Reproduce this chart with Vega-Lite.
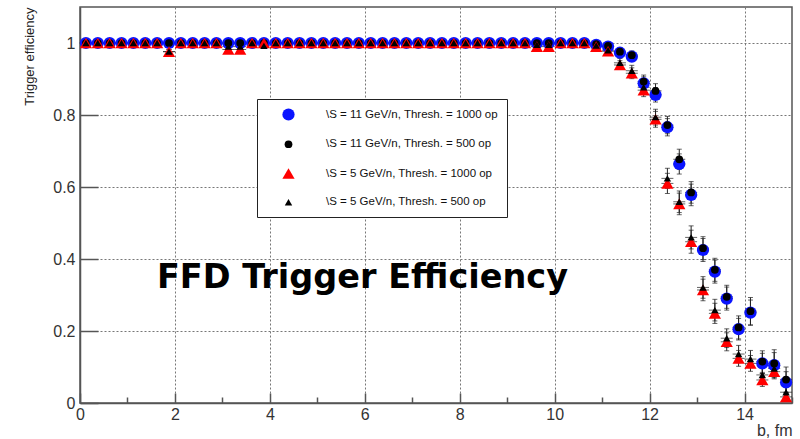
{
  "$schema": "https://vega.github.io/schema/vega-lite/v6.json",
  "width": 712,
  "height": 396,
  "autosize": {"type": "none"},
  "padding": {"left": 80, "top": 7, "right": 8, "bottom": 36},
  "background": "white",
  "datasets": {
    "caption": [{"label": "FFD Trigger Efficiency", "cx": 1.62, "cy": 0.32}],
    "series": [
      {"s": "A", "name": "\\S = 11 GeV/n, Thresh. = 1000 op"},
      {"s": "B", "name": "\\S = 11 GeV/n, Thresh. = 500 op"},
      {"s": "C", "name": "\\S = 5 GeV/n, Thresh. = 1000 op"},
      {"s": "D", "name": "\\S = 5 GeV/n, Thresh. = 500 op"}
    ],
    "points": [
      {"b":0.125,"s":"A","y":1,"e":0},{"b":0.375,"s":"A","y":1,"e":0},{"b":0.625,"s":"A","y":1,"e":0},{"b":0.875,"s":"A","y":1,"e":0},
      {"b":1.125,"s":"A","y":1,"e":0},{"b":1.375,"s":"A","y":1,"e":0},{"b":1.625,"s":"A","y":1,"e":0},{"b":1.875,"s":"A","y":1,"e":0},
      {"b":2.125,"s":"A","y":1,"e":0},{"b":2.375,"s":"A","y":1,"e":0},{"b":2.625,"s":"A","y":1,"e":0},{"b":2.875,"s":"A","y":1,"e":0},
      {"b":3.125,"s":"A","y":1,"e":0},{"b":3.375,"s":"A","y":1,"e":0},{"b":3.625,"s":"A","y":1,"e":0},{"b":3.875,"s":"A","y":1,"e":0},
      {"b":4.125,"s":"A","y":1,"e":0},{"b":4.375,"s":"A","y":1,"e":0},{"b":4.625,"s":"A","y":1,"e":0},{"b":4.875,"s":"A","y":1,"e":0},
      {"b":5.125,"s":"A","y":1,"e":0},{"b":5.375,"s":"A","y":1,"e":0},{"b":5.625,"s":"A","y":1,"e":0},{"b":5.875,"s":"A","y":1,"e":0},
      {"b":6.125,"s":"A","y":1,"e":0},{"b":6.375,"s":"A","y":1,"e":0},{"b":6.625,"s":"A","y":1,"e":0},{"b":6.875,"s":"A","y":1,"e":0},
      {"b":7.125,"s":"A","y":1,"e":0},{"b":7.375,"s":"A","y":1,"e":0},{"b":7.625,"s":"A","y":1,"e":0},{"b":7.875,"s":"A","y":1,"e":0},
      {"b":8.125,"s":"A","y":1,"e":0},{"b":8.375,"s":"A","y":1,"e":0},{"b":8.625,"s":"A","y":1,"e":0},{"b":8.875,"s":"A","y":1,"e":0},
      {"b":9.125,"s":"A","y":1,"e":0},{"b":9.375,"s":"A","y":1,"e":0},{"b":9.625,"s":"A","y":1,"e":0},{"b":9.875,"s":"A","y":1,"e":0},
      {"b":10.125,"s":"A","y":1,"e":0},{"b":10.375,"s":"A","y":1,"e":0},{"b":10.625,"s":"A","y":1,"e":0},
      {"b":10.875,"s":"A","y":0.995,"e":0.004},{"b":11.125,"s":"A","y":0.99,"e":0.006},{"b":11.375,"s":"A","y":0.973,"e":0.01},
      {"b":11.625,"s":"A","y":0.962,"e":0.012},{"b":11.875,"s":"A","y":0.888,"e":0.018},{"b":12.125,"s":"A","y":0.856,"e":0.02},
      {"b":12.375,"s":"A","y":0.766,"e":0.024},{"b":12.625,"s":"A","y":0.664,"e":0.028},{"b":12.875,"s":"A","y":0.578,"e":0.03},
      {"b":13.125,"s":"A","y":0.425,"e":0.032},{"b":13.375,"s":"A","y":0.365,"e":0.032},{"b":13.625,"s":"A","y":0.29,"e":0.032},
      {"b":13.875,"s":"A","y":0.205,"e":0.03},{"b":14.125,"s":"A","y":0.251,"e":0.035},{"b":14.375,"s":"A","y":0.11,"e":0.028},
      {"b":14.625,"s":"A","y":0.105,"e":0.035},{"b":14.875,"s":"A","y":0.057,"e":0.03},

      {"b":0.125,"s":"B","y":1,"e":0},{"b":0.375,"s":"B","y":1,"e":0},{"b":0.625,"s":"B","y":1,"e":0},{"b":0.875,"s":"B","y":1,"e":0},
      {"b":1.125,"s":"B","y":1,"e":0},{"b":1.375,"s":"B","y":1,"e":0},{"b":1.625,"s":"B","y":1,"e":0},{"b":1.875,"s":"B","y":1,"e":0},
      {"b":2.125,"s":"B","y":1,"e":0},{"b":2.375,"s":"B","y":1,"e":0},{"b":2.625,"s":"B","y":1,"e":0},{"b":2.875,"s":"B","y":1,"e":0},
      {"b":3.125,"s":"B","y":1,"e":0},{"b":3.375,"s":"B","y":1,"e":0},{"b":3.625,"s":"B","y":1,"e":0},{"b":3.875,"s":"B","y":1,"e":0},
      {"b":4.125,"s":"B","y":1,"e":0},{"b":4.375,"s":"B","y":1,"e":0},{"b":4.625,"s":"B","y":1,"e":0},{"b":4.875,"s":"B","y":1,"e":0},
      {"b":5.125,"s":"B","y":1,"e":0},{"b":5.375,"s":"B","y":1,"e":0},{"b":5.625,"s":"B","y":1,"e":0},{"b":5.875,"s":"B","y":1,"e":0},
      {"b":6.125,"s":"B","y":1,"e":0},{"b":6.375,"s":"B","y":1,"e":0},{"b":6.625,"s":"B","y":1,"e":0},{"b":6.875,"s":"B","y":1,"e":0},
      {"b":7.125,"s":"B","y":1,"e":0},{"b":7.375,"s":"B","y":1,"e":0},{"b":7.625,"s":"B","y":1,"e":0},{"b":7.875,"s":"B","y":1,"e":0},
      {"b":8.125,"s":"B","y":1,"e":0},{"b":8.375,"s":"B","y":1,"e":0},{"b":8.625,"s":"B","y":1,"e":0},{"b":8.875,"s":"B","y":1,"e":0},
      {"b":9.125,"s":"B","y":1,"e":0},{"b":9.375,"s":"B","y":1,"e":0},{"b":9.625,"s":"B","y":1,"e":0},{"b":9.875,"s":"B","y":1,"e":0},
      {"b":10.125,"s":"B","y":1,"e":0},{"b":10.375,"s":"B","y":1,"e":0},{"b":10.625,"s":"B","y":1,"e":0},
      {"b":10.875,"s":"B","y":0.997,"e":0.004},{"b":11.125,"s":"B","y":0.992,"e":0.006},{"b":11.375,"s":"B","y":0.976,"e":0.01},
      {"b":11.625,"s":"B","y":0.966,"e":0.012},{"b":11.875,"s":"B","y":0.893,"e":0.018},{"b":12.125,"s":"B","y":0.867,"e":0.02},
      {"b":12.375,"s":"B","y":0.772,"e":0.024},{"b":12.625,"s":"B","y":0.677,"e":0.028},{"b":12.875,"s":"B","y":0.585,"e":0.03},
      {"b":13.125,"s":"B","y":0.43,"e":0.032},{"b":13.375,"s":"B","y":0.37,"e":0.032},{"b":13.625,"s":"B","y":0.295,"e":0.032},
      {"b":13.875,"s":"B","y":0.21,"e":0.032},{"b":14.125,"s":"B","y":0.255,"e":0.038},{"b":14.375,"s":"B","y":0.115,"e":0.03},
      {"b":14.625,"s":"B","y":0.11,"e":0.038},{"b":14.875,"s":"B","y":0.065,"e":0.035},

      {"b":0.125,"s":"C","y":1,"e":0},{"b":0.375,"s":"C","y":1,"e":0},{"b":0.625,"s":"C","y":1,"e":0},{"b":0.875,"s":"C","y":1,"e":0},
      {"b":1.125,"s":"C","y":1,"e":0},{"b":1.375,"s":"C","y":1,"e":0},{"b":1.625,"s":"C","y":1,"e":0},{"b":1.875,"s":"C","y":0.976,"e":0.006},
      {"b":2.125,"s":"C","y":1,"e":0},{"b":2.375,"s":"C","y":1,"e":0},{"b":2.625,"s":"C","y":1,"e":0},{"b":2.875,"s":"C","y":1,"e":0},
      {"b":3.125,"s":"C","y":0.982,"e":0.005},{"b":3.375,"s":"C","y":0.982,"e":0.005},{"b":3.625,"s":"C","y":1,"e":0},{"b":3.875,"s":"C","y":1,"e":0},
      {"b":4.125,"s":"C","y":1,"e":0},{"b":4.375,"s":"C","y":1,"e":0},{"b":4.625,"s":"C","y":1,"e":0},{"b":4.875,"s":"C","y":1,"e":0},
      {"b":5.125,"s":"C","y":1,"e":0},{"b":5.375,"s":"C","y":1,"e":0},{"b":5.625,"s":"C","y":1,"e":0},{"b":5.875,"s":"C","y":1,"e":0},
      {"b":6.125,"s":"C","y":1,"e":0},{"b":6.375,"s":"C","y":1,"e":0},{"b":6.625,"s":"C","y":1,"e":0},{"b":6.875,"s":"C","y":1,"e":0},
      {"b":7.125,"s":"C","y":1,"e":0},{"b":7.375,"s":"C","y":1,"e":0},{"b":7.625,"s":"C","y":1,"e":0},{"b":7.875,"s":"C","y":1,"e":0},
      {"b":8.125,"s":"C","y":1,"e":0},{"b":8.375,"s":"C","y":1,"e":0},{"b":8.625,"s":"C","y":1,"e":0},{"b":8.875,"s":"C","y":1,"e":0},
      {"b":9.125,"s":"C","y":1,"e":0},{"b":9.375,"s":"C","y":1,"e":0},{"b":9.625,"s":"C","y":0.99,"e":0.004},{"b":9.875,"s":"C","y":0.99,"e":0.004},
      {"b":10.125,"s":"C","y":1,"e":0},{"b":10.375,"s":"C","y":1,"e":0},{"b":10.625,"s":"C","y":1,"e":0},
      {"b":10.875,"s":"C","y":0.99,"e":0.005},{"b":11.125,"s":"C","y":0.977,"e":0.008},{"b":11.375,"s":"C","y":0.939,"e":0.012},
      {"b":11.625,"s":"C","y":0.916,"e":0.015},{"b":11.875,"s":"C","y":0.869,"e":0.018},{"b":12.125,"s":"C","y":0.788,"e":0.022},
      {"b":12.375,"s":"C","y":0.61,"e":0.028},{"b":12.625,"s":"C","y":0.553,"e":0.03},{"b":12.875,"s":"C","y":0.448,"e":0.032},
      {"b":13.125,"s":"C","y":0.314,"e":0.03},{"b":13.375,"s":"C","y":0.249,"e":0.028},{"b":13.625,"s":"C","y":0.17,"e":0.025},
      {"b":13.875,"s":"C","y":0.124,"e":0.022},{"b":14.125,"s":"C","y":0.11,"e":0.022},{"b":14.375,"s":"C","y":0.064,"e":0.018},
      {"b":14.625,"s":"C","y":0.087,"e":0.02},{"b":14.875,"s":"C","y":0.017,"e":0.012},

      {"b":0.125,"s":"D","y":1,"e":0},{"b":0.375,"s":"D","y":1,"e":0},{"b":0.625,"s":"D","y":1,"e":0},{"b":0.875,"s":"D","y":1,"e":0},
      {"b":1.125,"s":"D","y":1,"e":0},{"b":1.375,"s":"D","y":1,"e":0},{"b":1.625,"s":"D","y":1,"e":0},{"b":1.875,"s":"D","y":0.976,"e":0.006},
      {"b":2.125,"s":"D","y":1,"e":0},{"b":2.375,"s":"D","y":1,"e":0},{"b":2.625,"s":"D","y":1,"e":0},{"b":2.875,"s":"D","y":1,"e":0},
      {"b":3.125,"s":"D","y":0.99,"e":0.004},{"b":3.375,"s":"D","y":0.99,"e":0.004},{"b":3.625,"s":"D","y":1,"e":0},{"b":3.875,"s":"D","y":0.992,"e":0.004},
      {"b":4.125,"s":"D","y":1,"e":0},{"b":4.375,"s":"D","y":1,"e":0},{"b":4.625,"s":"D","y":1,"e":0},{"b":4.875,"s":"D","y":1,"e":0},
      {"b":5.125,"s":"D","y":1,"e":0},{"b":5.375,"s":"D","y":1,"e":0},{"b":5.625,"s":"D","y":1,"e":0},{"b":5.875,"s":"D","y":1,"e":0},
      {"b":6.125,"s":"D","y":1,"e":0},{"b":6.375,"s":"D","y":1,"e":0},{"b":6.625,"s":"D","y":1,"e":0},{"b":6.875,"s":"D","y":1,"e":0},
      {"b":7.125,"s":"D","y":1,"e":0},{"b":7.375,"s":"D","y":1,"e":0},{"b":7.625,"s":"D","y":1,"e":0},{"b":7.875,"s":"D","y":1,"e":0},
      {"b":8.125,"s":"D","y":1,"e":0},{"b":8.375,"s":"D","y":1,"e":0},{"b":8.625,"s":"D","y":1,"e":0},{"b":8.875,"s":"D","y":1,"e":0},
      {"b":9.125,"s":"D","y":1,"e":0},{"b":9.375,"s":"D","y":1,"e":0},{"b":9.625,"s":"D","y":0.995,"e":0.003},{"b":9.875,"s":"D","y":0.995,"e":0.003},
      {"b":10.125,"s":"D","y":1,"e":0},{"b":10.375,"s":"D","y":1,"e":0},{"b":10.625,"s":"D","y":1,"e":0},
      {"b":10.875,"s":"D","y":0.993,"e":0.005},{"b":11.125,"s":"D","y":0.98,"e":0.008},{"b":11.375,"s":"D","y":0.945,"e":0.012},
      {"b":11.625,"s":"D","y":0.923,"e":0.015},{"b":11.875,"s":"D","y":0.877,"e":0.018},{"b":12.125,"s":"D","y":0.794,"e":0.022},
      {"b":12.375,"s":"D","y":0.624,"e":0.028},{"b":12.625,"s":"D","y":0.559,"e":0.03},{"b":12.875,"s":"D","y":0.46,"e":0.032},
      {"b":13.125,"s":"D","y":0.321,"e":0.03},{"b":13.375,"s":"D","y":0.258,"e":0.03},{"b":13.625,"s":"D","y":0.18,"e":0.026},
      {"b":13.875,"s":"D","y":0.136,"e":0.024},{"b":14.125,"s":"D","y":0.122,"e":0.024},{"b":14.375,"s":"D","y":0.078,"e":0.02},
      {"b":14.625,"s":"D","y":0.096,"e":0.022},{"b":14.875,"s":"D","y":0.03,"e":0.015}
    ]
  },
  "layer": [
    {
      "data": {"name": "points"},
      "mark": {"type": "errorbar", "color": "#222", "thickness": 1, "ticks": {"size": 5, "color": "#222"}},
      "encoding": {
        "x": {
          "field": "b", "type": "quantitative",
          "scale": {"domain": [0, 15], "nice": false, "zero": false},
          "axis": {
            "title": "b, fm",
            "titleAnchor": "end",
            "titleFont": "Liberation Sans",
            "titleFontSize": 16,
            "titleFontWeight": "normal",
            "titleColor": "#333",
            "titlePadding": -4,
            "values": [0,0.5,1,1.5,2,2.5,3,3.5,4,4.5,5,5.5,6,6.5,7,7.5,8,8.5,9,9.5,10,10.5,11,11.5,12,12.5,13,13.5,14,14.5,15],
            "labelExpr": "datum.value % 2 == 0 ? format(datum.value, '~g') : ''",
            "labelFont": "Liberation Sans",
            "labelFontSize": 16,
            "labelColor": "#333",
            "labelFlush": false,
            "labelOverlap": false,
            "labelPadding": 13,
            "tickSize": {"condition": {"test": "datum.value % 2 == 0", "value": -10}, "value": -6},
            "tickColor": "#555",
            "tickWidth": 1.5,
            "domainColor": "#555",
            "domainWidth": 1.5,
            "grid": true,
            "gridDash": [2, 2],
            "gridColor": "#777",
            "gridOpacity": {"condition": {"test": "datum.value % 2 == 0 && datum.value > 0 && datum.value < 15", "value": 1}, "value": 0}
          }
        },
        "y": {
          "field": "y", "type": "quantitative",
          "scale": {"domain": [0, 1.1], "nice": false},
          "axis": {
            "title": "Trigger efficiency",
            "titleAnchor": "end",
            "titleFont": "Liberation Sans",
            "titleFontSize": 13,
            "titleFontWeight": "normal",
            "titleColor": "#222",
            "titlePadding": 16,
            "values": [0,0.05,0.1,0.15,0.2,0.25,0.3,0.35,0.4,0.45,0.5,0.55,0.6,0.65,0.7,0.75,0.8,0.85,0.9,0.95,1,1.05,1.1],
            "labelExpr": "abs(datum.value*5 - round(datum.value*5)) < 0.001 ? format(datum.value, '~g') : ''",
            "labelFont": "Liberation Sans",
            "labelFontSize": 16,
            "labelColor": "#333",
            "labelFlush": false,
            "labelOverlap": false,
            "labelPadding": 23,
            "tickSize": {"condition": {"test": "abs(datum.value*5 - round(datum.value*5)) < 0.001", "value": -18}, "value": -10},
            "tickColor": "#555",
            "tickWidth": 1.5,
            "domainColor": "#555",
            "domainWidth": 1.5,
            "grid": true,
            "gridDash": [2, 2],
            "gridColor": "#777",
            "gridOpacity": {"condition": {"test": "abs(datum.value*5 - round(datum.value*5)) < 0.001 && datum.value > 0 && datum.value < 1.05", "value": 1}, "value": 0}
          }
        },
        "yError": {"field": "e"}
      }
    },
    {
      "data": {"name": "points"},
      "mark": {"type": "tick", "orient": "horizontal", "size": 12, "thickness": 1, "color": "#222"},
      "encoding": {
        "x": {"field": "b", "type": "quantitative"},
        "y": {"field": "y", "type": "quantitative"}
      }
    },
    {
      "data": {"name": "points"},
      "transform": [
        {"lookup": "s", "from": {"data": {"name": "series"}, "key": "s", "fields": ["name"]}}
      ],
      "mark": {"type": "point", "filled": true, "opacity": 1, "strokeWidth": 0},
      "encoding": {
        "x": {"field": "b", "type": "quantitative"},
        "y": {"field": "y", "type": "quantitative"},
        "color": {
          "field": "name", "type": "nominal", "sort": null,
          "scale": {
            "domain": ["\\S = 11 GeV/n, Thresh. = 1000 op", "\\S = 11 GeV/n, Thresh. = 500 op", "\\S = 5 GeV/n, Thresh. = 1000 op", "\\S = 5 GeV/n, Thresh. = 500 op"],
            "range": ["#0a14ff", "#000000", "#ff0000", "#000000"]
          },
          "legend": {
            "title": null,
            "orient": "none",
            "legendX": 177,
            "legendY": 92,
            "padding": 9,
            "strokeColor": "#222",
            "fillColor": "white",
            "labelFont": "Liberation Sans",
            "labelFontSize": 11.5,
            "labelColor": "#111",
            "labelLimit": 300,
            "labelOffset": 31,
            "symbolOffset": 16,
            "rowPadding": 16.5,
            "symbolStrokeWidth": 0
          }
        },
        "shape": {
          "field": "name", "type": "nominal", "sort": null,
          "scale": {
            "domain": ["\\S = 11 GeV/n, Thresh. = 1000 op", "\\S = 11 GeV/n, Thresh. = 500 op", "\\S = 5 GeV/n, Thresh. = 1000 op", "\\S = 5 GeV/n, Thresh. = 500 op"],
            "range": ["circle", "circle", "triangle-up", "triangle-up"]
          }
        },
        "size": {
          "field": "name", "type": "nominal", "sort": null,
          "scale": {
            "type": "ordinal",
            "domain": ["\\S = 11 GeV/n, Thresh. = 1000 op", "\\S = 11 GeV/n, Thresh. = 500 op", "\\S = 5 GeV/n, Thresh. = 1000 op", "\\S = 5 GeV/n, Thresh. = 500 op"],
            "range": [150, 60, 150, 55]
          }
        }
      }
    },
    {
      "data": {"name": "caption"},
      "mark": {"type": "text", "font": "DejaVu Sans", "fontWeight": "bold", "fontSize": 33.5, "align": "left", "baseline": "alphabetic", "color": "#000"},
      "encoding": {
        "x": {"field": "cx", "type": "quantitative"},
        "y": {"field": "cy", "type": "quantitative"},
        "text": {"field": "label"}
      }
    }
  ],
  "config": {
    "view": {"stroke": "#555", "strokeWidth": 1.5},
    "axis": {"labelOverlap": false, "labelFlush": false}
  }
}
